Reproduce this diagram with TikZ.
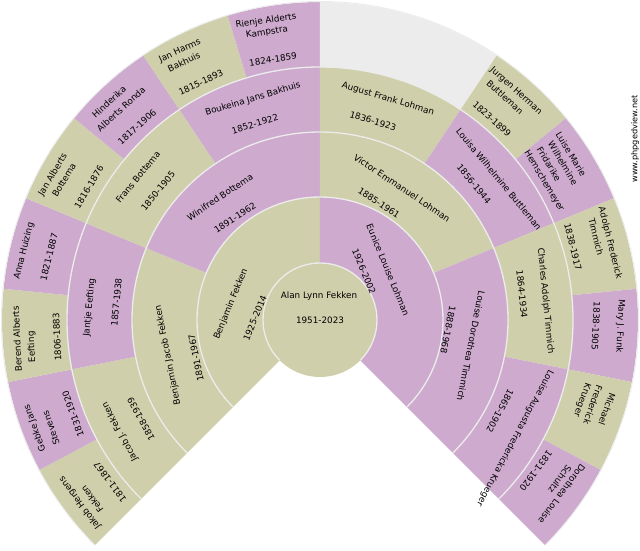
\documentclass[tikz,border=0pt]{standalone}
\usepackage{fontspec}
\setmainfont{DejaVu Sans}
\definecolor{khaki}{HTML}{CFCFAB}
\definecolor{mauve}{HTML}{CEABCE}
\definecolor{pale}{HTML}{ECECEC}
\tikzset{
  lbl/.style={inner sep=0pt,font=\fontsize{8.8}{10}\selectfont,text=black},
  webl/.style={inner sep=0pt,font=\fontsize{8.2}{10}\selectfont,text=black,rotate=90},
  ringline/.style={draw=pale,line width=1.3pt}
}
\newcommand{\sector}[5]{\fill[#1] (#2:#4pt) arc[start angle=#2,end angle=#3,radius=#4pt] -- (#3:#5pt) arc[start angle=#3,end angle=#2,radius=#5pt] -- cycle;}
\begin{document}
\begin{tikzpicture}
\useasboundingbox (-320pt,-230pt) rectangle (320pt,320pt);
% outer ring
\sector{khaki}{225}{208.125}{253}{318}
\sector{mauve}{208.125}{191.25}{253}{318}
\sector{khaki}{191.25}{174.375}{253}{318}
\sector{mauve}{174.375}{157.5}{253}{318}
\sector{khaki}{157.5}{140.625}{253}{318}
\sector{mauve}{140.625}{123.75}{253}{318}
\sector{khaki}{123.75}{106.875}{253}{318}
\sector{mauve}{106.875}{90}{253}{318}
\sector{pale}{90}{56.25}{253}{318}
\sector{khaki}{56.25}{39.375}{253}{318}
\sector{mauve}{39.375}{22.5}{253}{318}
\sector{khaki}{22.5}{5.625}{253}{318}
\sector{mauve}{5.625}{-11.25}{253}{318}
\sector{khaki}{-11.25}{-28.125}{253}{318}
\sector{mauve}{-28.125}{-45}{253}{318}
% ring 3
\sector{khaki}{225}{191.25}{188}{253}
\sector{mauve}{191.25}{157.5}{188}{253}
\sector{khaki}{157.5}{123.75}{188}{253}
\sector{mauve}{123.75}{90}{188}{253}
\sector{khaki}{90}{56.25}{188}{253}
\sector{mauve}{56.25}{22.5}{188}{253}
\sector{khaki}{22.5}{-11.25}{188}{253}
\sector{mauve}{-11.25}{-45}{188}{253}
% ring 2
\sector{khaki}{225}{157.5}{123}{188}
\sector{mauve}{157.5}{90}{123}{188}
\sector{khaki}{90}{22.5}{123}{188}
\sector{mauve}{22.5}{-45}{123}{188}
% ring 1
\sector{khaki}{225}{90}{57}{123}
\sector{mauve}{90}{-45}{57}{123}
% centre
\fill[khaki] (0,0) circle[radius=57pt];
% ring lines
\foreach \r in {57,123,188,253}
  \draw[ringline] (225:\r pt) arc[start angle=225,end angle=-45,radius=\r pt];
\draw[draw=pale,line width=1pt] (225:318.5pt) arc[start angle=225,end angle=-45,radius=318.5pt];
\begin{scope}[shift={(-320pt,320pt)},x=1pt,y=-1pt]
\node[lbl] (p1a) at (319,296) {Alan Lynn Fekken};
\node[lbl] (p1b) at (320,320.5) {1951-2023};
\node[lbl,rotate=67.5] (p2a) at (231,304) {Benjamin Fekken};
\node[lbl,rotate=67.5] (p2b) at (255,318) {1925-2014};
\node[lbl,rotate=-67.5] (p3a) at (388,270) {Eunice Louise Lohman};
\node[lbl,rotate=-67.5] (p3b) at (364,271.5) {1926-2002};
\node[lbl,rotate=101.25] (p4a) at (168,355) {Benjamin Jacob Fekken};
\node[lbl,rotate=101.25] (p4b) at (196,358) {1891-1967};
\node[lbl,rotate=33.75] (p5a) at (220,197) {Winifred Bottema};
\node[lbl,rotate=33.75] (p5b) at (235,218) {1891-1962};
\node[lbl,rotate=-33.75] (p6a) at (402,188) {Victor Emmanuel Lohman};
\node[lbl,rotate=-33.75] (p6b) at (379,203) {1885-1961};
\node[lbl,rotate=-101.25] (p7a) at (471,346) {Louise Dorothea Timmich};
\node[lbl,rotate=-101.25] (p7b) at (448,330) {1888-1968};
\node[lbl,rotate=118.125] (p8a) at (120,432) {Jacob J. Fekken};
\node[lbl,rotate=118.125] (p8b) at (141,419) {1858-1939};
\node[lbl,rotate=84.375] (p9a) at (89.5,307.5) {Jantje Eefting};
\node[lbl,rotate=84.375] (p9b) at (116.5,302) {1857-1938};
\node[lbl,rotate=50.625] (p10a) at (138,177) {Frans Bottema};
\node[lbl,rotate=50.625] (p10b) at (158,191) {1850-1905};
\node[lbl,rotate=16.875] (p11a) at (253,99) {Boukeina Jans Bakhuis};
\node[lbl,rotate=16.875] (p11b) at (255,124) {1852-1922};
\node[lbl,rotate=-16.875] (p12a) at (388,99) {August Frank Lohman};
\node[lbl,rotate=-16.875] (p12b) at (373,121) {1836-1923};
\node[lbl,rotate=-50.625] (p13a) at (499,179) {Louisa Wilhelmine Buttleman};
\node[lbl,rotate=-50.625] (p13b) at (474,184) {1856-1944};
\node[lbl,rotate=-84.375] (p14a) at (545.5,301) {Charles Adolph Timmich};
\node[lbl,rotate=-84.375] (p14b) at (522,294) {1864-1934};
\node[lbl,rotate=-118.125] (p15a) at (515,438) {Louise Augusta Fredericka Krueger};
\node[lbl,rotate=-118.125] (p15b) at (500,411) {1865-1902};
% outer
\node[lbl,rotate=126.56] (p16a) at (80,503) {Jakob Hergens};
\node[lbl,rotate=126.56] (p16c) at (92,499) {Fekken};
\node[lbl,rotate=126.56] (p16b) at (110,482) {1811-1867};
\node[lbl,rotate=109.69] (p17a) at (35,428) {Gebke Jans};
\node[lbl,rotate=109.69] (p17c) at (51,428) {Stevens};
\node[lbl,rotate=109.69] (p17b) at (73,414) {1831-1920};
\node[lbl,rotate=92.81] (p18a) at (17,339) {Berend Alberts};
\node[lbl,rotate=92.81] (p18c) at (32,347) {Eefting};
\node[lbl,rotate=92.81] (p18b) at (57,337) {1806-1883};
\node[lbl,rotate=75.94] (p19a) at (24,251) {Anna Huizing};
\node[lbl,rotate=75.94] (p19b) at (49,257) {1821-1887};
\node[lbl,rotate=59.06] (p20a) at (53,175) {Jan Alberts};
\node[lbl,rotate=59.06] (p20c) at (64,180) {Bottema};
\node[lbl,rotate=59.06] (p20b) at (89,187) {1816-1876};
\node[lbl,rotate=42.19] (p21a) at (109,102) {Hinderika};
\node[lbl,rotate=42.19] (p21c) at (121,109) {Alberts Ronda};
\node[lbl,rotate=42.19] (p21b) at (137,127) {1817-1906};
\node[lbl,rotate=25.31] (p22a) at (180,51) {Jan Harms};
\node[lbl,rotate=25.31] (p22c) at (184,62) {Bakhuis};
\node[lbl,rotate=25.31] (p22b) at (201,82.5) {1815-1893};
\node[lbl,rotate=8.44] (p23a) at (266,21) {Rienje Alderts};
\node[lbl,rotate=8.44] (p23c) at (267,32.5) {Kampstra};
\node[lbl,rotate=8.44] (p23b) at (273,59.5) {1824-1859};
\node[lbl,rotate=-42.19] (p24a) at (516,91) {Jurgen Herman};
\node[lbl,rotate=-42.19] (p24c) at (505,97) {Buttleman};
\node[lbl,rotate=-42.19] (p24b) at (492,119) {1823-1899};
\node[lbl,rotate=-59.06] (p25a) at (571,154) {Luise Marie};
\node[lbl,rotate=-59.06] (p25c) at (563,163) {Wilhelmine};
\node[lbl,rotate=-59.06] (p25d) at (549,164) {Fridarike};
\node[lbl,rotate=-59.06] (p25e) at (544,181) {Hemschemeyer};
\node[lbl,rotate=-75.94] (p26a) at (610,243) {Adolph Frederick};
\node[lbl,rotate=-75.94] (p26c) at (596,237) {Timmich};
\node[lbl,rotate=-75.94] (p26b) at (573,247) {1838-1917};
\node[lbl,rotate=-92.81] (p27a) at (620,326) {Mary J. Funk};
\node[lbl,rotate=-92.81] (p27b) at (596,326) {1838-1905};
\node[lbl,rotate=-109.69] (p28a) at (607,409) {Michael};
\node[lbl,rotate=-109.69] (p28c) at (593,405) {Frederick};
\node[lbl,rotate=-109.69] (p28d) at (582,400) {Krueger};
\node[lbl,rotate=-126.56] (p29a) at (562,494) {Dorothea Louise};
\node[lbl,rotate=-126.56] (p29c) at (560,479) {Schultz};
\node[lbl,rotate=-126.56] (p29b) at (536,471) {1831-1920};
\node[webl] (web) at (635,139) {www.phpgedview.net};
\end{scope}
\end{tikzpicture}
\end{document}
